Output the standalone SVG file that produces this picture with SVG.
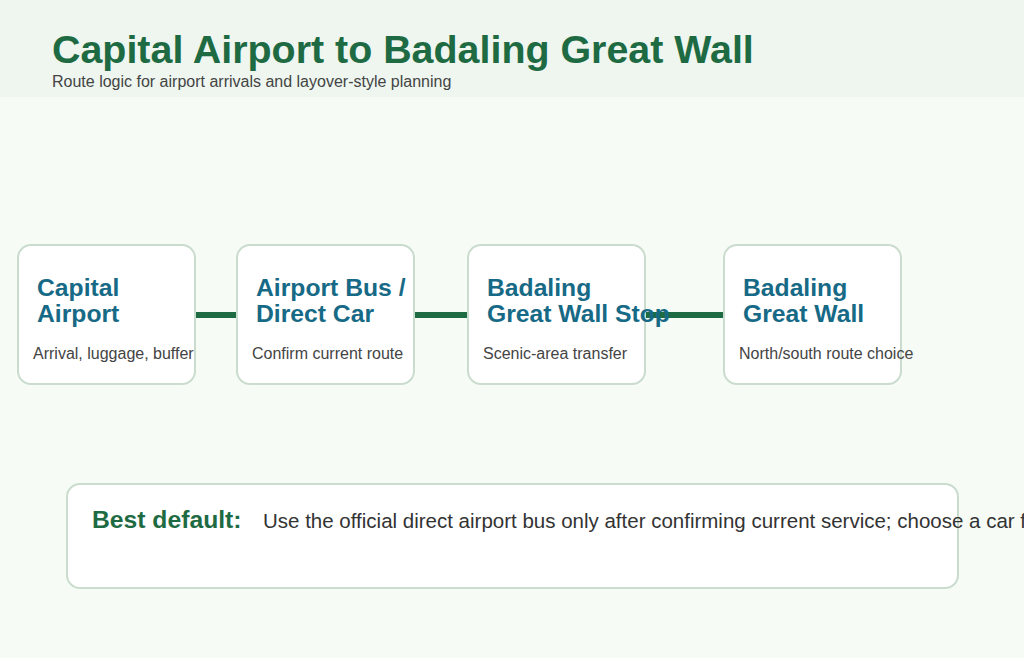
<svg xmlns="http://www.w3.org/2000/svg" width="1024" height="658" viewBox="0 0 1024 658">
<style>
.bg{fill:#f6fbf6}
.hdr{fill:#eef6ef}
.title{font-family:"Liberation Sans",Arial,sans-serif;font-weight:bold;font-size:39.4px;fill:#1e6b43}
.sub{font-family:"Liberation Sans",Arial,sans-serif;font-size:16px;fill:#444}
.box{fill:#fff;stroke:#cadccd;stroke-width:2}
.nt{font-family:"Liberation Sans",Arial,sans-serif;font-weight:bold;font-size:24.7px;fill:#176a86}
.nd{font-family:"Liberation Sans",Arial,sans-serif;font-size:16px;fill:#444}
.conn{stroke:#1e6b43;stroke-width:6;fill:none}
.bl{font-family:"Liberation Sans",Arial,sans-serif;font-weight:bold;font-size:24.7px;fill:#1e6b43}
.bt{font-family:"Liberation Sans",Arial,sans-serif;font-size:20.5px;fill:#333}
</style>
<rect class="bg" x="0" y="0" width="1024" height="658"/>
<rect class="hdr" x="0" y="0" width="1024" height="97"/>
<text class="title" x="52" y="63">Capital Airport to Badaling Great Wall</text>
<text class="sub" x="52" y="87">Route logic for airport arrivals and layover-style planning</text>
<g id="connectors">
<line class="conn" x1="195" y1="315" x2="237" y2="315"/>
<line class="conn" x1="414" y1="315" x2="468" y2="315"/>
<line class="conn" x1="645" y1="315" x2="724" y2="315"/>
</g>
<g id="node-capital-airport">
<rect class="box" x="18" y="245" width="177" height="139" rx="13"/>
<text class="nt" x="37" y="296">Capital</text>
<text class="nt" x="37" y="322">Airport</text>
<text class="nd" x="33" y="359">Arrival, luggage, buffer</text>
</g>
<g id="node-airport-bus">
<rect class="box" x="237" y="245" width="177" height="139" rx="13"/>
<text class="nt" x="256" y="296">Airport Bus /</text>
<text class="nt" x="256" y="322">Direct Car</text>
<text class="nd" x="252" y="359">Confirm current route</text>
</g>
<g id="node-badaling-stop">
<rect class="box" x="468" y="245" width="177" height="139" rx="13"/>
<text class="nt" x="487" y="296">Badaling</text>
<text class="nt" x="487" y="322">Great Wall Stop</text>
<text class="nd" x="483" y="359">Scenic-area transfer</text>
</g>
<g id="node-badaling-great-wall">
<rect class="box" x="724" y="245" width="177" height="139" rx="13"/>
<text class="nt" x="743" y="296">Badaling</text>
<text class="nt" x="743" y="322">Great Wall</text>
<text class="nd" x="739" y="359">North/south route choice</text>
</g>
<g id="best-default">
<rect class="box" x="67" y="484" width="891" height="104" rx="13"/>
<text class="bl" x="92" y="528">Best default:</text>
<text class="bt" x="263" y="528">Use the official direct airport bus only after confirming current service; choose a car for</text>
</g>
</svg>
